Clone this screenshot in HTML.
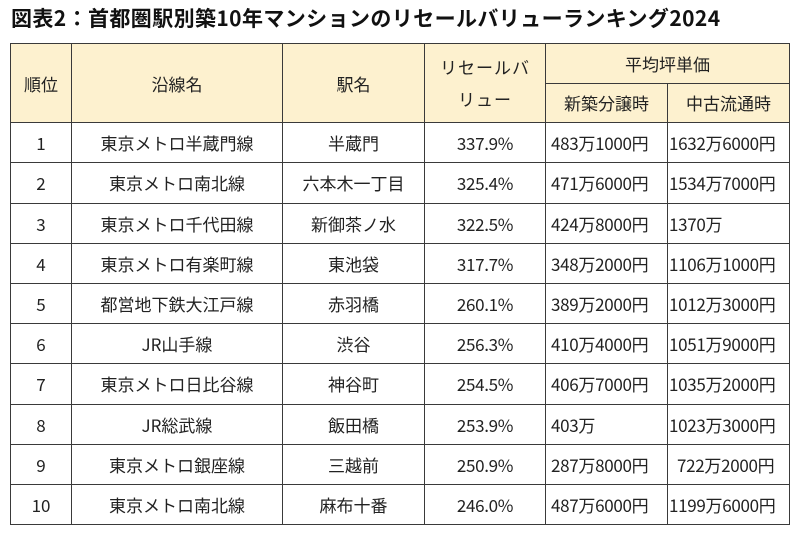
<!DOCTYPE html>
<html><head><meta charset="utf-8"><style>
body{margin:0;width:800px;height:534px;background:#fff;font-family:"Liberation Sans","Noto Sans CJK JP",sans-serif;color:#222;position:relative;overflow:hidden}
.t{position:absolute;left:11px;top:3px;font-size:21px;font-weight:bold;color:#111;font-family:"Noto Sans CJK JP",sans-serif;letter-spacing:0.4px}
table{position:absolute;left:10px;top:43px;border-collapse:collapse;table-layout:fixed;font-family:"Noto Sans CJK JP",sans-serif;font-size:17px}
td{border:1.5px solid #3a3a3a;text-align:center;padding:0;height:38.6px;white-space:nowrap;overflow:hidden}
.d td{height:39.2px}
.h td{background:#fdf1cf}
.n{letter-spacing:-0.3px}
.l{text-align:left;padding-left:5px}
.l2{text-align:left;padding-left:1px}
</style></head><body>
<div class="t">図表2：首都圏駅別築10年マンションのリセールバリューランキング2024</div>
<table>
<colgroup><col style="width:61px"><col style="width:211px"><col style="width:142px"><col style="width:121px"><col style="width:122px"><col style="width:122px"></colgroup>
<tr class="h"><td rowspan="2" style="height:78px">順位</td><td rowspan="2">沿線名</td><td rowspan="2">駅名</td><td rowspan="2" style="line-height:32px;letter-spacing:1px">リセールバ<br>リュー</td><td colspan="2">平均坪単価</td></tr>
<tr class="h"><td>新築分譲時</td><td>中古流通時</td></tr>
<tr class="d"><td>1</td><td>東京メトロ半蔵門線</td><td>半蔵門</td><td class="n">337.9%</td><td class="n l">483万1000円</td><td class="n l2">1632万6000円</td></tr>
<tr class="d"><td>2</td><td>東京メトロ南北線</td><td>六本木一丁目</td><td class="n">325.4%</td><td class="n l">471万6000円</td><td class="n l2">1534万7000円</td></tr>
<tr class="d"><td>3</td><td>東京メトロ千代田線</td><td>新御茶ノ水</td><td class="n">322.5%</td><td class="n l">424万8000円</td><td class="n l2">1370万</td></tr>
<tr class="d"><td>4</td><td>東京メトロ有楽町線</td><td>東池袋</td><td class="n">317.7%</td><td class="n l">348万2000円</td><td class="n l2">1106万1000円</td></tr>
<tr class="d"><td>5</td><td>都営地下鉄大江戸線</td><td>赤羽橋</td><td class="n">260.1%</td><td class="n l">389万2000円</td><td class="n l2">1012万3000円</td></tr>
<tr class="d"><td>6</td><td>JR山手線</td><td>渋谷</td><td class="n">256.3%</td><td class="n l">410万4000円</td><td class="n l2">1051万9000円</td></tr>
<tr class="d"><td>7</td><td>東京メトロ日比谷線</td><td>神谷町</td><td class="n">254.5%</td><td class="n l">406万7000円</td><td class="n l2">1035万2000円</td></tr>
<tr class="d"><td>8</td><td>JR総武線</td><td>飯田橋</td><td class="n">253.9%</td><td class="n l">403万</td><td class="n l2">1023万3000円</td></tr>
<tr class="d"><td>9</td><td>東京メトロ銀座線</td><td>三越前</td><td class="n">250.9%</td><td class="n l">287万8000円</td><td class="n l" style="padding-left:9px">722万2000円</td></tr>
<tr class="d"><td>10</td><td>東京メトロ南北線</td><td>麻布十番</td><td class="n">246.0%</td><td class="n l">487万6000円</td><td class="n l2">1199万6000円</td></tr>
</table>
</body></html>
